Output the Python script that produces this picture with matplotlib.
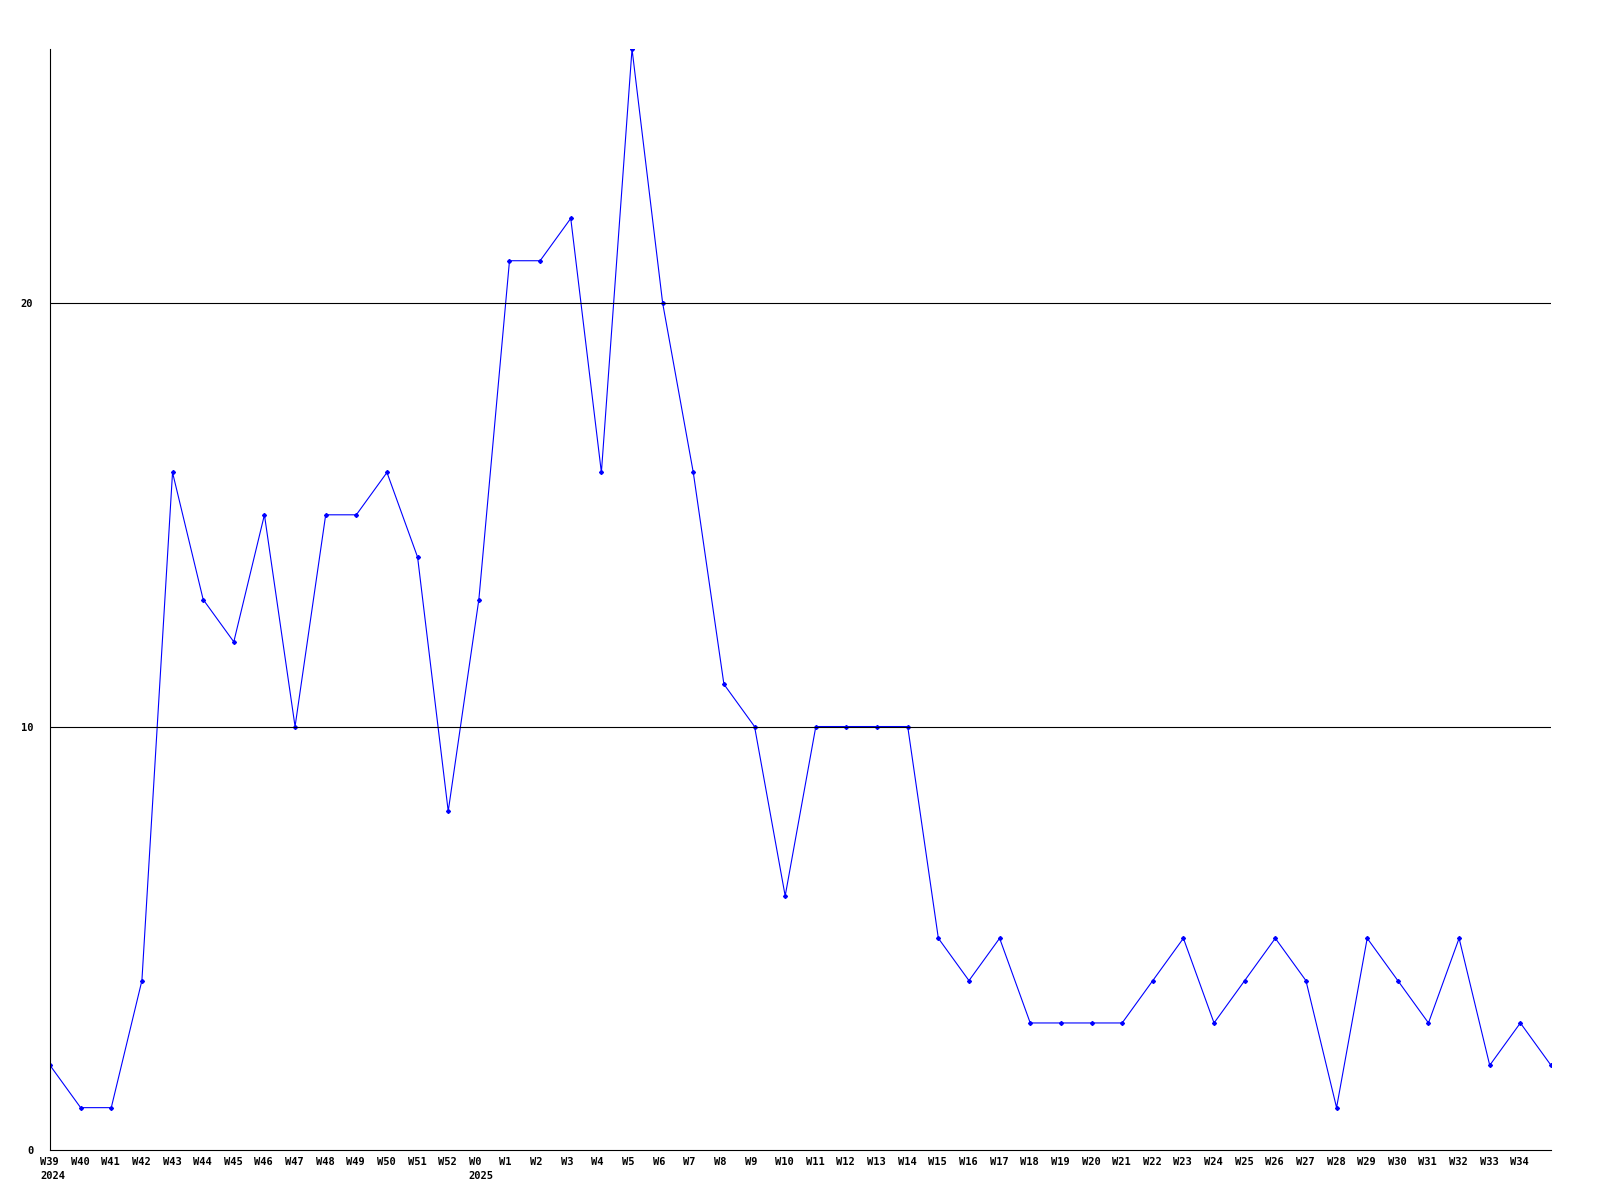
import matplotlib
matplotlib.use("Agg")
import matplotlib.pyplot as plt
import matplotlib.transforms as mtransforms

# weeks W39/2024 .. W34/2025, plus one trailing point at the right edge
week_labels = ["W39\n2024", "W40", "W41", "W42", "W43", "W44", "W45", "W46", "W47",
               "W48", "W49", "W50", "W51", "W52", "W0\n2025", "W1", "W2", "W3", "W4",
               "W5", "W6", "W7", "W8", "W9", "W10", "W11", "W12", "W13", "W14", "W15",
               "W16", "W17", "W18", "W19", "W20", "W21", "W22", "W23", "W24", "W25",
               "W26", "W27", "W28", "W29", "W30", "W31", "W32", "W33", "W34"]
counts = [2, 1, 1, 4, 16, 13, 12, 15, 10, 15, 15, 16, 14, 8, 13, 21, 21, 22, 16,
          26, 20, 16, 11, 10, 6, 10, 10, 10, 10, 5, 4, 5, 3, 3, 3, 3, 4, 5, 3, 4,
          5, 4, 1, 5, 4, 3, 5, 2, 3, 2]
y_ticks = [0, 10, 20]

fig = plt.figure(figsize=(16, 12), dpi=100)
ax = fig.add_axes([50 / 1600, 50 / 1200, 1501 / 1600, 1101 / 1200])

x = list(range(len(counts)))
for yv in y_ticks[1:]:
    ax.axhline(yv, color="black", lw=0.8, zorder=3)
ax.plot(x, counts, color="#0000ff", lw=0.8, marker="D", markersize=2.0, zorder=2)

ax.set_xlim(0, len(counts) - 1)
ax.set_ylim(0, 26)
for s in ["top", "right"]:
    ax.spines[s].set_visible(False)
ax.spines["left"].set_linewidth(0.8)
ax.spines["bottom"].set_linewidth(0.8)

font = dict(family="DejaVu Sans Mono", weight="bold", size=7.5)
ax.set_yticks(y_ticks)
ax.set_yticklabels([str(v) for v in y_ticks], **font)
ax.tick_params(axis="y", length=0, pad=12)
ax.set_xticks(range(len(week_labels)))
ax.set_xticklabels(week_labels, ha="left", va="top", linespacing=1.5, **font)
ax.tick_params(axis="x", length=0, pad=5)
shift = mtransforms.ScaledTranslation(-10 / 100, 0, fig.dpi_scale_trans)
for lab in ax.get_xticklabels():
    lab.set_transform(lab.get_transform() + shift)

fig.savefig("out.png", dpi=100)
